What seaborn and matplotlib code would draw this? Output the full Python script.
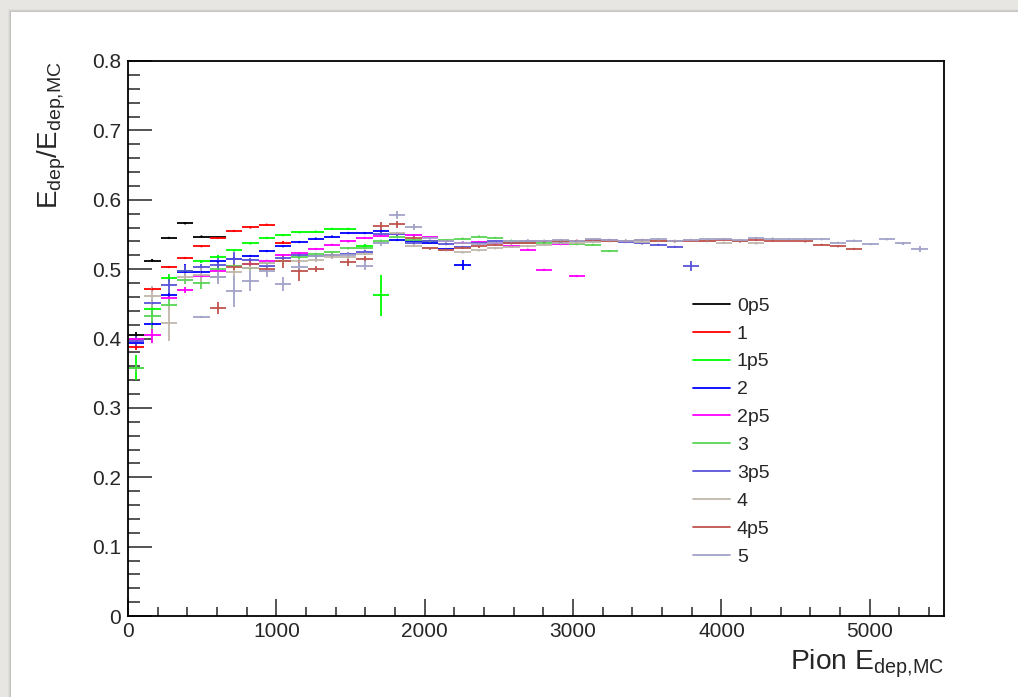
import numpy as np
import pandas as pd
import seaborn as sns
import matplotlib.pyplot as plt
from matplotlib.lines import Line2D
from matplotlib.patches import Rectangle
from matplotlib.ticker import MultipleLocator, FuncFormatter

sns.set_style('white')
plt.rcParams['font.family'] = ['Liberation Sans', 'DejaVu Sans']
plt.rcParams['mathtext.fontset'] = 'custom'
plt.rcParams['mathtext.rm'] = 'Liberation Sans'

# histogram binning: 50 bins from 0 to 5500
bin_width = 110

labels = ['0p5', '1', '1p5', '2', '2p5', '3', '3p5', '4', '4p5', '5']
colors = ['#000000', '#ff0000', '#00ff00', '#0000ff', '#ff00ff',
          '#59d454', '#5954d8', '#c0b6ac', '#c0544f', '#a3a3c8']
first_bin = [0, 0, 0, 0, 0, 0, 0, 1, 5, 4]

ratio_0p5 = [0.405, 0.512, 0.545, 0.566, 0.547, 0.546]
err_0p5 = [0.004, 0.002, 0.001, 0.001, 0.001, 0.001]

ratio_1 = [0.388, 0.471, 0.503, 0.516, 0.533, 0.545, 0.555, 0.560, 0.564, 0.538]
err_1 = [0.004, 0.003, 0.002, 0.001, 0.001, 0.001, 0.001, 0.001, 0.001, 0.002]

ratio_1p5 = [0.358, 0.4425, 0.487, 0.497, 0.511, 0.518, 0.527, 0.537, 0.545,
             0.549, 0.553, 0.554, 0.558, 0.558, 0.534, 0.462]
err_1p5 = [0.018, 0.010, 0.006, 0.004, 0.002, 0.002, 0.001, 0.001, 0.001,
           0.001, 0.001, 0.001, 0.001, 0.001, 0.002, 0.030]

ratio_2 = [0.394, 0.421, 0.462, 0.496, 0.496, 0.511, 0.515, 0.519, 0.526, 0.533,
           0.539, 0.544, 0.547, 0.552, 0.552, 0.555, 0.542, 0.540, 0.538, 0.529,
           0.506]
err_2 = [0.008, 0.004, 0.003, 0.012, 0.002, 0.002, 0.002, 0.001, 0.001, 0.001,
         0.001, 0.001, 0.001, 0.001, 0.001, 0.001, 0.001, 0.001, 0.001, 0.002,
         0.007]

ratio_2p5 = [0.399, 0.405, 0.459, 0.470, 0.490, 0.498, 0.504, 0.508, 0.512, 0.520,
             0.523, 0.529, 0.535, 0.540, 0.545, 0.548, 0.551, 0.549, 0.546, 0.541,
             0.538, 0.539, 0.537, 0.533, 0.528, 0.499, 0.536, 0.490]
err_2p5 = [0.004, 0.012, 0.004, 0.004, 0.002, 0.002, 0.002, 0.002, 0.001, 0.001,
           0.001, 0.001, 0.001, 0.001, 0.001, 0.001, 0.001, 0.001, 0.001, 0.001,
           0.001, 0.001, 0.001, 0.001, 0.001, 0.001, 0.001, 0.001]

ratio_3 = [0.357, 0.433, 0.449, 0.484, 0.480, 0.500, 0.505, 0.501, 0.509, 0.511,
           0.517, 0.522, 0.524, 0.530, 0.530, 0.541, 0.546, 0.542, 0.540, 0.542,
           0.544, 0.547, 0.545, 0.541, 0.538, 0.537, 0.539, 0.536, 0.535, 0.526]
err_3 = [0.005, 0.020, 0.008, 0.005, 0.008, 0.004, 0.003, 0.002, 0.002, 0.002,
         0.002, 0.001, 0.001, 0.001, 0.001, 0.001, 0.001, 0.001, 0.001, 0.001,
         0.001, 0.001, 0.001, 0.001, 0.001, 0.001, 0.001, 0.001, 0.001, 0.002]

ratio_3p5 = [0.396, 0.451, 0.477, 0.498, 0.503, 0.506, 0.515, 0.513, 0.504, 0.516,
             0.520, 0.519, 0.520, 0.522, 0.525, 0.551, 0.550, 0.538, 0.541, 0.536,
             0.532, 0.537, 0.540, 0.538, 0.541, 0.540, 0.538, 0.540, 0.541, 0.542,
             0.539, 0.537, 0.535, 0.532, 0.505]
err_3p5 = [0.010, 0.004, 0.012, 0.008, 0.004, 0.010, 0.010, 0.003, 0.003, 0.003,
           0.002, 0.002, 0.002, 0.002, 0.002, 0.002, 0.002, 0.001, 0.001, 0.001,
           0.001, 0.001, 0.001, 0.001, 0.001, 0.001, 0.001, 0.001, 0.001, 0.001,
           0.001, 0.001, 0.001, 0.002, 0.007]

ratio_4 = [0.461, 0.422, 0.488, 0.492, 0.489, 0.496, 0.502, 0.509, 0.511, 0.511,
           0.513, 0.518, 0.517, 0.522, 0.537, 0.552, 0.534, 0.530, 0.527, 0.524,
           0.527, 0.530, 0.532, 0.533, 0.535, 0.537, 0.538, 0.539, 0.540, 0.540,
           0.539, 0.541, 0.540, 0.542, 0.540, 0.538, 0.540, 0.537]
err_4 = [0.015, 0.025, 0.006, 0.010, 0.006, 0.006, 0.005, 0.004, 0.004, 0.003,
         0.003, 0.003, 0.002, 0.002, 0.002, 0.002, 0.002, 0.001, 0.001, 0.001,
         0.001, 0.001, 0.001, 0.001, 0.001, 0.001, 0.001, 0.001, 0.001, 0.001,
         0.001, 0.001, 0.001, 0.001, 0.001, 0.001, 0.001, 0.001]

ratio_4p5 = [0.444, 0.503, 0.508, 0.500, 0.511, 0.498, 0.500, 0.520, 0.510, 0.515,
             0.562, 0.565, 0.545, 0.530, 0.528, 0.531, 0.533, 0.535, 0.537, 0.538,
             0.540, 0.541, 0.541, 0.542, 0.541, 0.541, 0.542, 0.541, 0.540, 0.541,
             0.541, 0.542, 0.540, 0.542, 0.541, 0.541, 0.540, 0.535, 0.533, 0.529]
err_4p5 = [0.008, 0.004, 0.004, 0.003, 0.010, 0.015, 0.004, 0.004, 0.005, 0.004,
           0.006, 0.005, 0.003, 0.002, 0.002, 0.002, 0.002, 0.002, 0.001, 0.001,
           0.001, 0.001, 0.001, 0.001, 0.001, 0.001, 0.001, 0.001, 0.001, 0.001,
           0.001, 0.001, 0.001, 0.001, 0.001, 0.001, 0.001, 0.001, 0.001, 0.002]

ratio_5 = [0.431, 0.489, 0.468, 0.483, 0.497, 0.478, 0.503, 0.519, 0.520, 0.521,
           0.505, 0.537, 0.578, 0.561, 0.545, 0.540, 0.538, 0.536, 0.538, 0.540,
           0.541, 0.541, 0.542, 0.540, 0.543, 0.542, 0.541, 0.542, 0.543, 0.541,
           0.542, 0.543, 0.543, 0.542, 0.545, 0.544, 0.543, 0.543, 0.543, 0.538,
           0.541, 0.536, 0.543, 0.537, 0.529]
err_5 = [0.002, 0.010, 0.022, 0.015, 0.008, 0.010, 0.006, 0.004, 0.004, 0.003,
         0.006, 0.003, 0.006, 0.004, 0.002, 0.002, 0.002, 0.002, 0.001, 0.001,
         0.001, 0.001, 0.001, 0.001, 0.001, 0.001, 0.001, 0.001, 0.001, 0.001,
         0.001, 0.001, 0.001, 0.001, 0.001, 0.001, 0.001, 0.001, 0.001, 0.001,
         0.001, 0.001, 0.001, 0.002, 0.005]

ratios = [ratio_0p5, ratio_1, ratio_1p5, ratio_2, ratio_2p5,
          ratio_3, ratio_3p5, ratio_4, ratio_4p5, ratio_5]
errs = [err_0p5, err_1, err_1p5, err_2, err_2p5,
        err_3, err_3p5, err_4, err_4p5, err_5]

rows = []
for lab, start, r, e in zip(labels, first_bin, ratios, errs):
    for i, (v, ev) in enumerate(zip(r, e)):
        rows.append({'series': lab, 'x': (start + i + 0.5) * bin_width,
                     'y': v, 'yerr': ev})
df = pd.DataFrame(rows)

W, H = 1018, 697
fig = plt.figure(figsize=(W / 100, H / 100), dpi=100, facecolor='#e8e6e2')
# white canvas with a soft shadow edge, kept behind the axes
for k, a in enumerate([0.03, 0.05, 0.07]):
    fig.patches.append(Rectangle(((11 - 3 + k) / W, 0), 1, 1 - (12 - 3 + k) / H,
                                 transform=fig.transFigure, facecolor='black',
                                 alpha=a, edgecolor='none', zorder=-3))
fig.patches.append(Rectangle((11 / W, 0), 1, 1 - 12 / H, transform=fig.transFigure,
                             facecolor='white', edgecolor='none', zorder=-2))

ax = fig.add_axes([128 / W, 1 - 616 / H, (944 - 128) / W, (616 - 61) / H])
ax.set_facecolor('white')

for lab, col in zip(labels, colors):
    d = df[df['series'] == lab]
    ax.errorbar(d['x'], d['y'], xerr=bin_width / 2, yerr=d['yerr'], fmt='none',
                ecolor=col, elinewidth=1.3, capsize=0)
sns.scatterplot(data=df, x='x', y='y', hue='series', palette=colors, s=3,
                linewidth=0, legend=False, ax=ax, zorder=3)

ax.set_xlim(0, 5500)
ax.set_ylim(0, 0.8)
ax.xaxis.set_major_locator(MultipleLocator(1000))
ax.xaxis.set_minor_locator(MultipleLocator(200))
ax.yaxis.set_major_locator(MultipleLocator(0.1))
ax.yaxis.set_minor_locator(MultipleLocator(0.02))
ax.xaxis.set_major_formatter(FuncFormatter(lambda v, p: f'{v:g}'))
ax.yaxis.set_major_formatter(FuncFormatter(lambda v, p: f'{v:g}'))
ax.tick_params(axis='y', which='major', direction='in', length=17, width=1.1,
               labelsize=15, pad=5, left=True, right=False)
ax.tick_params(axis='y', which='minor', direction='in', length=8.7, width=1.1,
               left=True, right=False)
ax.tick_params(axis='x', which='major', direction='in', length=12, width=1.1,
               labelsize=15, pad=4, bottom=True, top=False)
ax.tick_params(axis='x', which='minor', direction='in', length=6.5, width=1.1,
               bottom=True, top=False)
for sp in ax.spines.values():
    sp.set_color('black')
    sp.set_linewidth(1.3)

ax.set_xlabel(r'Pion E$_\mathregular{dep{,}MC}$', fontsize=20.3)
ax.xaxis.set_label_coords(1.0, (616 - 669) / (616 - 61))
ax.xaxis.label.set_ha('right')
ax.xaxis.label.set_va('baseline')
ax.set_ylabel(r'E$_\mathregular{dep}$/E$_\mathregular{dep{,}MC}$', fontsize=20)
ax.yaxis.set_label_coords((52 - 128) / (944 - 128), 1.0)
ax.yaxis.label.set_rotation_mode('anchor')
ax.yaxis.label.set_ha('right')
ax.yaxis.label.set_va('center')

handles = [Line2D([], [], color=c, lw=1.3) for c in colors]
ax.legend(handles, labels, loc='upper left',
          bbox_to_anchor=((693 - 128) / (944 - 128), (616 - 297) / (616 - 61)),
          frameon=False, fontsize=14, handlelength=1.9, handletextpad=0.36,
          labelspacing=0.53, borderpad=0, borderaxespad=0)

fig.savefig('out.png', dpi=100, facecolor=fig.get_facecolor())
